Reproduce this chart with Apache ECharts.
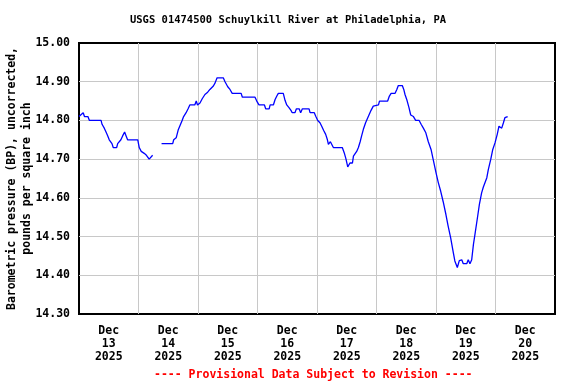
<!DOCTYPE html>
<html>
<head>
<meta charset="utf-8">
<script src="https://cdn.jsdelivr.net/npm/echarts@6/dist/echarts.min.js"></script>
<style>
html,body{margin:0;padding:0;background:#fff;}
#chart{width:576px;height:384px;}
</style>
</head>
<body>
<div id="chart"></div>
<script>
// Title / labels
const chartTitle = 'USGS 01474500 Schuylkill River at Philadelphia, PA';
const yAxisTitle = 'Barometric pressure (BP), uncorrected,\npounds per square inch';
const footerText = '---- Provisional Data Subject to Revision ----';
const dayLabels = ['Dec\n13\n2025','Dec\n14\n2025','Dec\n15\n2025','Dec\n16\n2025','Dec\n17\n2025','Dec\n18\n2025','Dec\n19\n2025','Dec\n20\n2025'];
const yTicks = [14.30, 14.40, 14.50, 14.60, 14.70, 14.80, 14.90, 15.00];

// Observation times: hours since 2025-12-13 00:00
const obsHours = [
  0, 1.7, 2.2, 3.6, 4.2, 8.9, 9.3, 10.2, 10.9, 11.6, 12.2, 13.3, 13.8, 15.2, 15.6, 16.2, 16.9, 17.6, 18.4, 19.0,
  19.6, 23.7, 24.3, 25.1, 26.3, 27.2, 28.3, 29.0, 29.7,
  31.5,
  33.3, 37.8, 38.2, 39.2, 40.0, 40.7, 41.6, 42.2, 43.2, 44.0, 44.7, 46.7, 47.3, 47.8, 48.8, 49.7, 50.8, 51.9, 52.8,
  54.2, 54.9, 55.7, 58.2, 58.9, 60.0, 60.9, 61.8, 65.4, 65.9, 71.0, 71.7, 72.6, 74.8, 75.3, 76.7, 77.1, 78.4, 79.1,
  79.8, 80.4, 82.4, 83.1, 83.8, 84.7, 85.5, 86.0, 87.1, 87.7, 88.8, 89.4, 90.1, 92.8, 93.2, 94.9, 95.5, 96.3, 97.2,
  97.9, 98.7, 99.5, 100.2, 100.6, 101.4, 101.9, 102.6, 106.2, 107.0, 107.7, 108.4, 109.3, 110.3, 110.7, 112.0, 112.7,
  113.4, 114.0, 114.7, 115.6, 116.7, 117.8, 118.7, 119.4, 120.8, 121.2, 124.5, 125.2, 125.9, 127.5, 128.2, 128.8,
  130.4, 131.0, 131.5, 132.3, 133.1, 133.8, 134.9, 135.8, 137.2, 138.0, 138.9, 139.9, 140.9, 142.0, 142.9, 144.0,
  144.9, 145.9, 146.9, 148.0, 148.9, 149.9, 151.0, 151.6, 152.6, 153.4, 154.4, 155.0, 156.4, 157.0, 157.7, 158.4,
  159.1, 159.7, 160.7, 161.5, 162.4, 163.1, 163.8, 164.5, 165.1, 166.1, 166.9, 167.8, 168.7, 169.4, 169.8, 170.5,
  171.2, 171.8, 172.9
];
// Barometric pressure, psi (null = data gap)
const pressurePsi = [
  14.81, 14.82, 14.81, 14.81, 14.80, 14.80, 14.79, 14.78, 14.77, 14.76, 14.75, 14.74, 14.73, 14.73, 14.74, 14.745, 14.75, 14.76, 14.77, 14.76,
  14.75, 14.75, 14.73, 14.72, 14.715, 14.71, 14.70, 14.70, 14.71,
  null,
  14.74, 14.74, 14.75, 14.755, 14.775, 14.78, 14.80, 14.81, 14.82, 14.83, 14.84, 14.84, 14.85, 14.84, 14.845, 14.856, 14.867, 14.873, 14.88,
  14.889, 14.897, 14.91, 14.91, 14.90, 14.887, 14.88, 14.87, 14.87, 14.86, 14.86, 14.85, 14.84, 14.84, 14.83, 14.83, 14.84, 14.84, 14.854,
  14.863, 14.87, 14.87, 14.852, 14.84, 14.833, 14.826, 14.82, 14.82, 14.83, 14.83, 14.82, 14.83, 14.83, 14.82, 14.82, 14.811, 14.80, 14.794,
  14.785, 14.774, 14.764, 14.75, 14.738, 14.745, 14.74, 14.73, 14.73, 14.716, 14.70, 14.68, 14.69, 14.69, 14.708, 14.72, 14.73,
  14.745, 14.76, 14.777, 14.794, 14.81, 14.826, 14.837, 14.84, 14.84, 14.85, 14.85, 14.863, 14.87, 14.87, 14.88, 14.89,
  14.89, 14.88, 14.867, 14.852, 14.833, 14.814, 14.81, 14.80, 14.80, 14.79, 14.78, 14.768, 14.745, 14.725, 14.698, 14.665,
  14.64, 14.617, 14.59, 14.557, 14.527, 14.497, 14.458, 14.437, 14.42, 14.438, 14.44, 14.43, 14.43, 14.44, 14.43, 14.44,
  14.48, 14.505, 14.548, 14.583, 14.613, 14.628, 14.63, 14.652, 14.673, 14.70, 14.725, 14.742, 14.764, 14.785, 14.79, 14.78,
  14.794, 14.807, 14.81
];

const FONT = '"DejaVu Sans Mono", monospace';
const chart = echarts.init(document.getElementById('chart'), null, {renderer: 'canvas'});
const seriesData = obsHours.map((h, i) => [h, pressurePsi[i]]);

chart.setOption({
  animation: false,
  backgroundColor: '#ffffff',
  title: {
    text: chartTitle,
    left: 'center',
    top: 10,
    textStyle: {fontFamily: FONT, fontSize: 10.5, fontWeight: 'bold', color: '#000'}
  },
  grid: {
    left: 79, right: 21, top: 43, bottom: 70,
    containLabel: false, outerBoundsMode: 'none',
    show: true, borderColor: '#000', borderWidth: 2, backgroundColor: 'transparent'
  },
  xAxis: [
    {
      type: 'value', min: 0, max: 192, interval: 24,
      axisLine: {show: false}, axisTick: {show: false}, axisLabel: {show: false},
      splitLine: {show: true, showMinLine: false, showMaxLine: false, lineStyle: {color: '#c8c8c8', width: 1}}
    },
    {
      type: 'value', min: 0, max: 192, interval: 12, position: 'bottom', offset: 0,
      axisLine: {show: false}, axisTick: {show: false}, splitLine: {show: false},
      axisLabel: {
        show: true, margin: 11, lineHeight: 13,
        fontFamily: FONT, fontSize: 11.5, fontWeight: 'bold', color: '#000',
        formatter: function (v) {
          if (Math.round(v) % 24 === 12) return dayLabels[(Math.round(v) - 12) / 24];
          return '';
        }
      }
    }
  ],
  yAxis: {
    type: 'value', min: 14.3, max: 15.0, interval: 0.1,
    name: yAxisTitle, nameLocation: 'middle', nameRotate: 90, nameGap: 44, nameMoveOverlap: false,
    nameTextStyle: {fontFamily: FONT, fontSize: 11.5, fontWeight: 'bold', color: '#000', lineHeight: 15},
    axisLine: {show: false}, axisTick: {show: false},
    axisLabel: {
      margin: 9, fontFamily: FONT, fontSize: 11.5, fontWeight: 'bold', color: '#000',
      formatter: v => v.toFixed(2)
    },
    splitLine: {show: true, showMinLine: false, showMaxLine: false, lineStyle: {color: '#c8c8c8', width: 1}}
  },
  graphic: [{
    type: 'text', left: 154, top: 369,
    style: {text: footerText, fill: '#ff0000', font: 'bold 11.5px "DejaVu Sans Mono", monospace'}
  }],
  series: [{
    type: 'line', xAxisIndex: 0, yAxisIndex: 0,
    data: seriesData, showSymbol: false, connectNulls: false,
    lineStyle: {color: '#0000ff', width: 1.3}, silent: true
  }]
});
</script>
</body>
</html>
